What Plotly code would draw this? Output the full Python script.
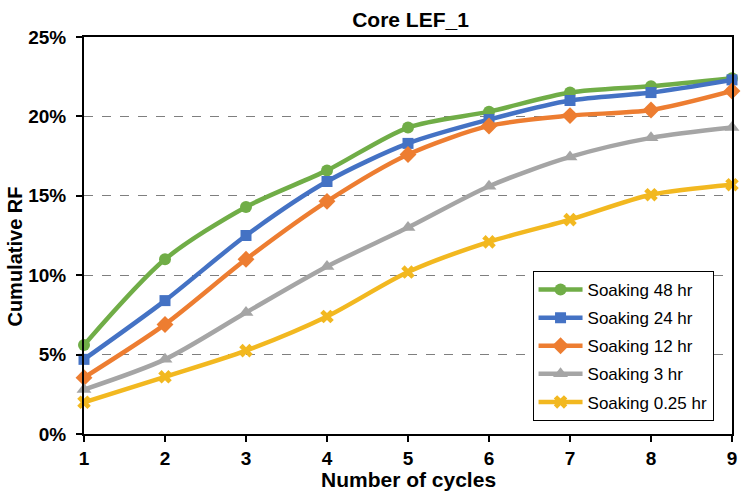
import plotly.graph_objects as go

cycles = [1, 2, 3, 4, 5, 6, 7, 8, 9]
soak_48 = [0.056, 0.110, 0.143, 0.166, 0.193, 0.203, 0.215, 0.219, 0.224]
soak_24 = [0.047, 0.084, 0.125, 0.159, 0.183, 0.198, 0.210, 0.215, 0.223]
soak_12 = [0.0355, 0.069, 0.110, 0.1465, 0.176, 0.194, 0.2005, 0.204, 0.216]
soak_3 = [0.028, 0.047, 0.0765, 0.1055, 0.130, 0.156, 0.1745, 0.1865, 0.193]
soak_025 = [0.020, 0.036, 0.0525, 0.074, 0.102, 0.121, 0.135, 0.1507, 0.157]

series_names = ["Soaking 48 hr", "Soaking 24 hr", "Soaking 12 hr", "Soaking 3 hr", "Soaking 0.25 hr"]
series_vals = [soak_48, soak_24, soak_12, soak_3, soak_025]
colors = ["#70AD47", "#4472C4", "#ED7D31", "#A5A5A5", "#F2B820"]
symbols = ["circle", "square", "diamond", "triangle-up", "x"]
sizes = [12, 11, 13, 13, 12]

y_ticks = [0, 0.05, 0.10, 0.15, 0.20, 0.25]
y_tick_text = ["0%", "5%", "10%", "15%", "20%", "25%"]

FONT = "Liberation Sans, Arial, sans-serif"

fig = go.Figure()
for i, (name, vals) in enumerate(zip(series_names, series_vals)):
    fig.add_trace(go.Scatter(
        x=cycles, y=vals, name=name, mode="lines+markers",
        line=dict(color=colors[i], width=4.5, shape="spline", smoothing=0.8),
        marker=dict(symbol=symbols[i], size=sizes[i], color=colors[i],
                    line=dict(width=0, color=colors[i])),
        legendgroup=f"g{i}", cliponaxis=False,
    ))

fig.update_layout(
    width=741, height=494,
    margin=dict(l=84, r=4, t=37, b=60),
    paper_bgcolor="white", plot_bgcolor="white",
    font=dict(family=FONT, color="black"),
    title=dict(text="<b>Core LEF_1</b>", x=(84 + 737) / 2 / 741, xanchor="center",
               y=1 - 20 / 494, yanchor="middle", font=dict(size=21, family=FONT)),
    showlegend=True,
    legend=dict(x=(536 - 84) / 653, xanchor="left", y=(434 - 271) / 397, yanchor="top",
                bordercolor="black", borderwidth=1, bgcolor="white",
                font=dict(size=17, family=FONT), tracegroupgap=3,
                itemwidth=44),
)

fig.update_xaxes(
    range=[1, 9], tickvals=cycles, showgrid=False, zeroline=False,
    showline=True, linecolor="black", linewidth=2, mirror=True,
    ticks="outside", ticklen=6, tickwidth=1.5, tickcolor="black",
    tickfont=dict(size=19, family=FONT, weight="bold"),
)
fig.update_yaxes(
    range=[0, 0.25], tickvals=y_ticks, ticktext=y_tick_text,
    showgrid=True, gridcolor="#7f7f7f", gridwidth=1.4, griddash="dash", zeroline=False,
    showline=True, linecolor="black", linewidth=2, mirror=True,
    ticks="outside", ticklen=6, tickwidth=1.5, tickcolor="black",
    tickfont=dict(size=19, family=FONT, weight="bold"), ticklabelstandoff=6,
)

fig.add_annotation(text="<b>Number of cycles</b>", xref="paper", yref="paper",
                   x=0.5, y=(434 - 479) / 397, xanchor="center", yanchor="middle",
                   showarrow=False, font=dict(size=21, family=FONT))
fig.add_annotation(text="<b>Cumulative RF</b>", xref="paper", yref="paper",
                   x=-(84 - 14) / 653, y=(434 - 257) / 397, xanchor="center", yanchor="middle",
                   textangle=-90, showarrow=False, font=dict(size=20, family=FONT))

fig.write_html("out.html")
